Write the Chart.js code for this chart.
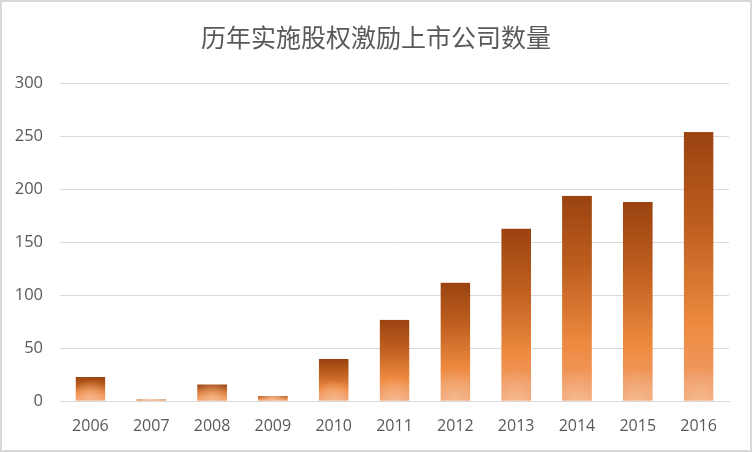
<!DOCTYPE html>
<html>
<head>
<meta charset="utf-8">
<script src="https://cdn.jsdelivr.net/npm/chart.js@4/dist/chart.umd.min.js"></script>
<style>
html,body{margin:0;padding:0;background:#fff;}
canvas{display:block;}
</style>
</head>
<body>
<canvas id="c" width="752" height="452"></canvas>
<script>
const titleText = '历年实施股权激励上市公司数量';
const categories = ['2006','2007','2008','2009','2010','2011','2012','2013','2014','2015','2016'];
const companyCounts = [23, 2, 16, 5, 40, 77, 112, 163, 194, 188, 254];
const yTicks = [0, 50, 100, 150, 200, 250, 300];

const textColor = '#595959';
const gridColor = '#D9D9D9';

function barFill(ctx) {
  const chart = ctx.chart;
  if (ctx.type !== 'data' || !chart.chartArea || !chart.scales.x || !chart.scales.y) return '#ED7D31';
  const xs = chart.scales.x, ys = chart.scales.y;
  const cat = (xs.right - xs.left) / categories.length;
  const w = Math.max(1, Math.round(cat * 0.49));
  const top = ys.getPixelForValue(ctx.raw);
  const bottom = ys.getPixelForValue(0);
  const h = Math.max(1, Math.round(bottom - top));
  const left = xs.getPixelForValue(ctx.dataIndex) - cat * 0.49 / 2;
  const off = document.createElement('canvas');
  off.width = w; off.height = h;
  const o = off.getContext('2d');
  const lg = o.createLinearGradient(0, 0, 0, h);
  lg.addColorStop(0, '#9A4310');
  lg.addColorStop(0.35, '#BE5F1F');
  lg.addColorStop(0.72, '#EE8A40');
  lg.addColorStop(1, '#F0A070');
  o.fillStyle = lg;
  o.fillRect(0, 0, w, h);
  const r = Math.max(w * 0.7, Math.min(h * 0.3, w * 1.1));
  const rg = o.createRadialGradient(w / 2, h, 0, w / 2, h, r);
  rg.addColorStop(0, 'rgba(246,186,144,0.95)');
  rg.addColorStop(1, 'rgba(246,186,144,0)');
  o.fillStyle = rg;
  o.fillRect(0, 0, w, h);
  const pat = chart.ctx.createPattern(off, 'no-repeat');
  pat.setTransform(new DOMMatrix([1, 0, 0, 1, left, top]));
  return pat;
}

const framePlugin = {
  id: 'frame',
  beforeDraw(chart) {
    const c = chart.ctx;
    c.save();
    c.fillStyle = '#ffffff';
    c.fillRect(0, 0, chart.width, chart.height);
    c.restore();
  },
  afterDraw(chart) {
    const c = chart.ctx;
    c.save();
    c.strokeStyle = '#D9D9D9';
    c.lineWidth = 2;
    c.strokeRect(1, 1, chart.width - 2, chart.height - 2);
    c.restore();
  }
};

new Chart(document.getElementById('c'), {
  type: 'bar',
  data: {
    labels: categories,
    datasets: [{
      data: companyCounts,
      backgroundColor: barFill,
      borderWidth: 0,
      barPercentage: 1,
      categoryPercentage: 0.49
    }]
  },
  options: {
    responsive: false,
    devicePixelRatio: 1,
    animation: false,
    layout: { padding: 0 },
    plugins: {
      legend: { display: false },
      tooltip: { enabled: false },
      title: {
        display: true,
        text: titleText,
        color: textColor,
        font: { family: '"Noto Sans CJK SC", sans-serif', size: 25, weight: 'normal', lineHeight: 1.2 },
        padding: { top: 22, bottom: 31.3 }
      }
    },
    scales: {
      x: {
        grid: { display: false, drawTicks: false },
        border: { display: true, color: gridColor, width: 1 },
        ticks: { color: textColor, font: { family: '"Open Sans", sans-serif', size: 16 }, padding: 16, maxRotation: 0 },
        afterFit(scale) { scale.height = 50.7; }
      },
      y: {
        min: 0, max: 300,
        afterBuildTicks(scale) { scale.ticks = yTicks.map(v => ({ value: v })); },
        grid: { color: gridColor, drawTicks: false, lineWidth: 1 },
        border: { display: false },
        ticks: { color: textColor, font: { family: '"Open Sans", sans-serif', size: 16.5 }, padding: 17 },
        afterFit(scale) { scale.width = 60; }
      },
      yRight: {
        position: 'right',
        min: 0, max: 300,
        grid: { display: false, drawTicks: false },
        border: { display: false },
        ticks: { display: false },
        afterFit(scale) { scale.width = 23; }
      }
    }
  },
  plugins: [framePlugin]
});
</script>
</body>
</html>
